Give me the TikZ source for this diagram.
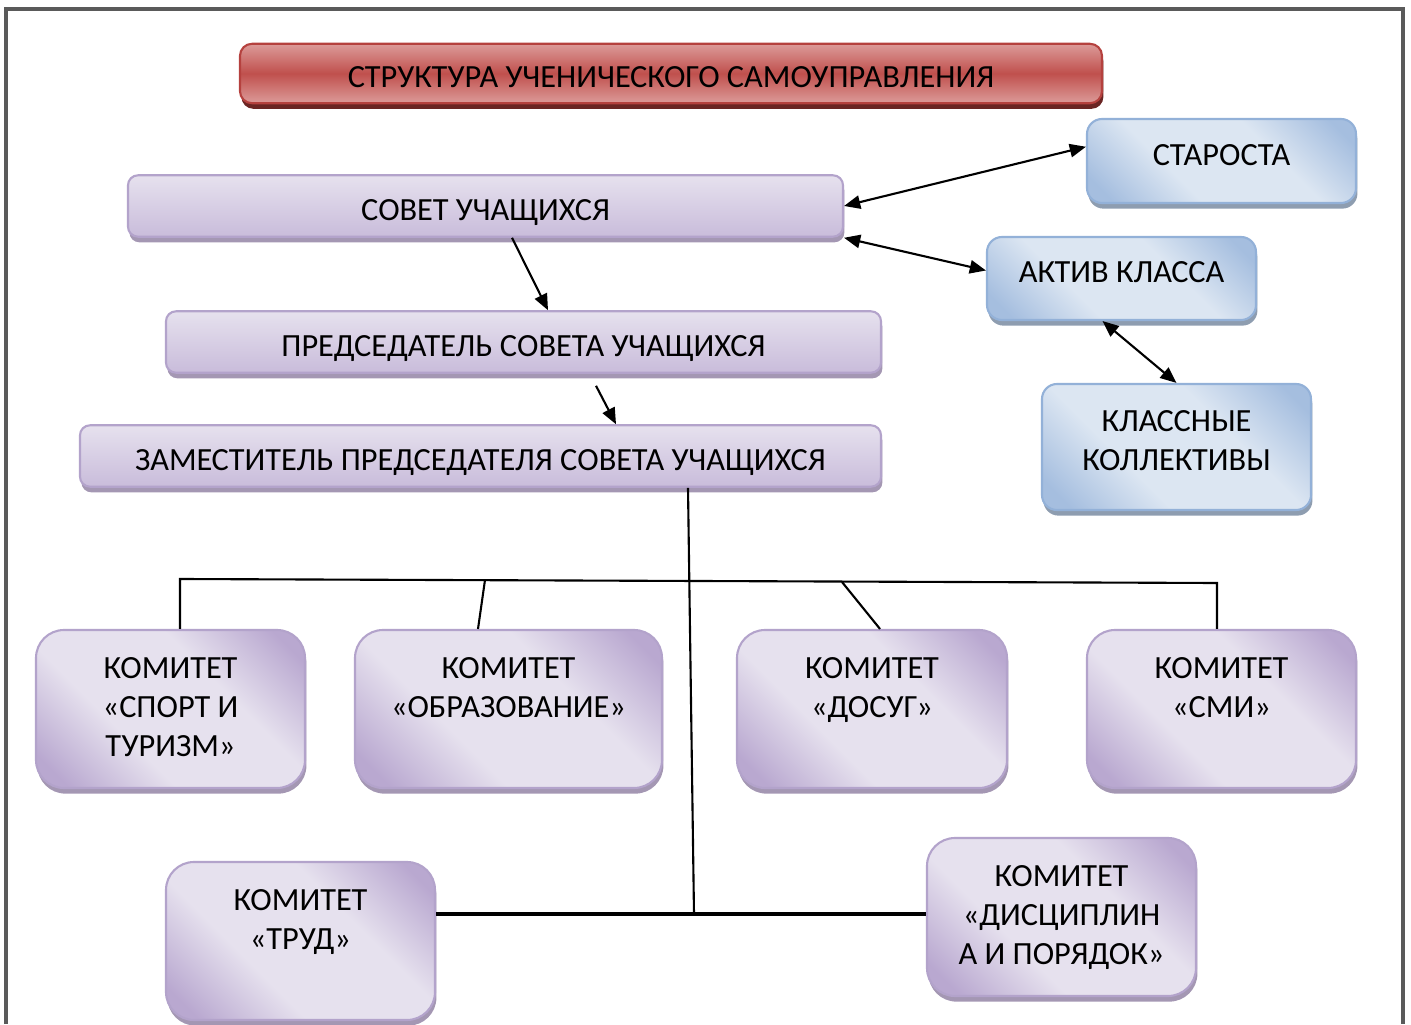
\documentclass[tikz,border=0pt]{standalone}
\usepackage{fontspec}
\setmainfont{Carlito}
\usetikzlibrary{arrows.meta, shadows}
\definecolor{violetlight}{HTML}{E6E1EE}
\definecolor{violetdark}{HTML}{B9A8D0}
\definecolor{violetline}{HTML}{B3A3CB}
\definecolor{violetshade}{HTML}{A497B3}
\definecolor{bluelight}{HTML}{DCE6F2}
\definecolor{bluedark}{HTML}{A5BEDF}
\definecolor{blueline}{HTML}{93B1D8}
\definecolor{blueshade}{HTML}{8E9DB0}
\definecolor{redlight}{HTML}{DC9B99}
\definecolor{reddark}{HTML}{C0504D}
\definecolor{redline}{HTML}{B5413E}
\definecolor{redshade}{HTML}{6A2523}
\definecolor{framegray}{HTML}{5A5A5A}
\pgfdeclareverticalshading{cttshade}{100bp}{color(0bp)=(violetdark); color(20bp)=(violetdark); color(38bp)=(violetlight); color(62bp)=(violetlight); color(80bp)=(violetdark); color(100bp)=(violetdark)}
\pgfdeclareverticalshading{blueshading}{100bp}{color(0bp)=(bluedark); color(20bp)=(bluedark); color(38bp)=(bluelight); color(62bp)=(bluelight); color(80bp)=(bluedark); color(100bp)=(bluedark)}
\tikzstyle{headbox} = [rectangle, rounded corners=0.12cm, minimum width=8.62cm, minimum height=0.59cm, draw=redline, line width=0.6pt, top color=redlight, bottom color=redlight, middle color=reddark, drop shadow={shadow xshift=0.4pt, shadow yshift=-1.6pt, fill=redshade, opacity=1}, font=\fontsize{9.2}{11.1}\selectfont, text height=0.32cm, text depth=0.04cm]
\tikzstyle{longbox} = [rectangle, rounded corners=0.1cm, minimum width=7.15cm, minimum height=0.6cm, draw=violetline, line width=0.6pt, top color=violetlight, bottom color=violetdark!65!violetlight, drop shadow={shadow xshift=0.4pt, shadow yshift=-1.6pt, fill=violetshade, opacity=1}, font=\fontsize{9.2}{11.1}\selectfont, text height=0.34cm, text depth=0.04cm]
\tikzstyle{bluebox} = [rectangle, rounded corners=0.15cm, minimum width=2.69cm, minimum height=0.84cm, draw=blueline, line width=0.6pt, shading=blueshading, shading angle=-45, drop shadow={shadow xshift=0.4pt, shadow yshift=-1.6pt, fill=blueshade, opacity=1}, align=center, font=\fontsize{9.2}{11.1}\selectfont, text height=0.24cm, text depth=0.15cm]
\tikzstyle{cttbox} = [rectangle, rounded corners=0.28cm, minimum width=2.69cm, minimum height=1.58cm, draw=violetline, line width=0.6pt, shading=cttshade, shading angle=-45, drop shadow={shadow xshift=0.4pt, shadow yshift=-1.6pt, fill=violetshade, opacity=1}, align=center, font=\fontsize{9.2}{11.1}\selectfont, text height=0.63cm, text depth=0.46cm]
\tikzstyle{threelines} = [text height=1.02cm, text depth=0.07cm]
\tikzstyle{arrow} = [line width=0.6pt, ->]
\tikzstyle{twoway} = [line width=0.6pt, <->]
\tikzstyle{branch} = [line width=0.6pt]
\tikzstyle{mainbranch} = [line width=1.1pt]

\begin{document}
\begin{tikzpicture}[>={Triangle[length=4.6pt,width=3.8pt]}]
    \useasboundingbox (0,0) rectangle (14.11,10.24);
    \draw [framegray, line width=0.9pt] (0.06,0) -- (0.06,10.15) -- (14.03,10.15) -- (14.03,0);

    %nodes
    \node (title) [headbox] at (6.71,9.505) {СТРУКТУРА УЧЕНИЧЕСКОГО САМОУПРАВЛЕНИЯ};
    \node (council) [longbox] at (4.855,8.18) {СОВЕТ УЧАЩИХСЯ};
    \node (chair) [longbox] at (5.235,6.82) {ПРЕДСЕДАТЕЛЬ СОВЕТА УЧАЩИХСЯ};
    \node (deputy) [longbox, minimum width=8.01cm] at (4.805,5.68) {ЗАМЕСТИТЕЛЬ ПРЕДСЕДАТЕЛЯ СОВЕТА УЧАЩИХСЯ};
    \node (head) [bluebox] at (12.215,8.63) {СТАРОСТА};
    \node (activ) [bluebox, minimum height=0.83cm] at (11.215,7.455) {АКТИВ КЛАССА};
    \node (classes) [bluebox, minimum height=1.26cm, text height=0.63cm, text depth=0.15cm] at (11.765,5.77) {КЛАССНЫЕ\\КОЛЛЕКТИВЫ};
    \node (sport) [cttbox, threelines] at (1.705,3.15) {КОМИТЕТ\\«СПОРТ И\\ТУРИЗМ»};
    \node (educ) [cttbox, minimum width=3.07cm] at (5.085,3.15) {КОМИТЕТ\\«ОБРАЗОВАНИЕ»};
    \node (leisure) [cttbox, minimum width=2.70cm] at (8.72,3.15) {КОМИТЕТ\\«ДОСУГ»};
    \node (media) [cttbox] at (12.215,3.15) {КОМИТЕТ\\«СМИ»};
    \node (labour) [cttbox] at (3.005,0.83) {КОМИТЕТ\\«ТРУД»};
    \node (order) [cttbox, threelines] at (10.615,1.07) {КОМИТЕТ\\«ДИСЦИПЛИН\\А И ПОРЯДОК»};
    \coordinate (busL) at (1.80,4.45);
    \coordinate (busR) at (12.17,4.41);
    \coordinate (educbus) at (4.85,4.44);
    \coordinate (leisurebus) at (8.42,4.42);
    \coordinate (hub) at (6.94,1.10);

    %arrows
    \draw [twoway] (council.east) -- (head.174);
    \draw [twoway] (council.south east) -- ([yshift=0.08cm]activ.west);
    \draw [twoway] ([xshift=-0.19cm]activ.south) -- (classes.north);
    \draw [arrow] ([xshift=0.265cm]council.south) -- ([xshift=0.245cm]chair.north);
    \draw [arrow] ([xshift=0.725cm,yshift=-0.12cm]chair.south) -- ([xshift=1.355cm]deputy.north);

    \draw [branch] ([xshift=2.075cm]deputy.south) -- (hub);
    \draw [branch] ([xshift=0.095cm]sport.north) -- (busL) -- (busR) -- ([xshift=-0.045cm]media.north);
    \draw [branch] (educbus) -- ([xshift=-0.305cm]educ.north);
    \draw [branch] (leisurebus) -- ([xshift=0.08cm]leisure.north);
    \draw [mainbranch] ([yshift=0.27cm]labour.east) -- (hub) -- ([yshift=0.03cm]order.west);
\end{tikzpicture}
\end{document}
